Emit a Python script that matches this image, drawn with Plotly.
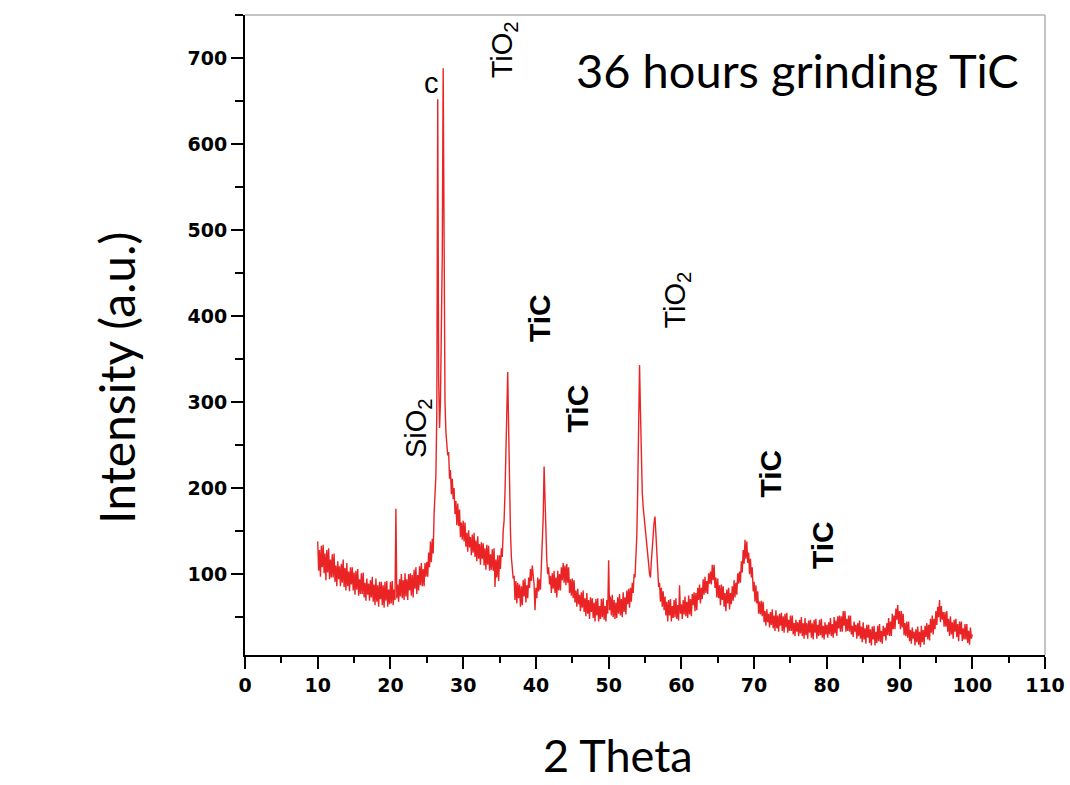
import numpy as np
import plotly.graph_objects as go

# ---- data ----
theta_start = 10.0
theta_step = 0.125
# intensity sampled every 0.125 deg from 10 to 100 (8 values per degree row)
intensity = [
    138, 104, 128, 97, 133, 108, 134, 101,     # 10
    124, 93, 128, 102, 130, 94, 117, 96,       # 11
    123, 96, 124, 91, 110, 86, 115, 94,        # 12
    109, 86, 112, 90, 117, 85, 107, 81,        # 13
    113, 86, 103, 80, 108, 88, 108, 81,        # 14
    102, 76, 104, 82, 106, 75, 94, 77,         # 15
    101, 77, 102, 73, 90, 69, 95, 76,          # 16
    89, 69, 93, 73, 97, 68, 88, 64,            # 17
    95, 68, 87, 62, 91, 71, 91, 64,            # 18
    87, 61, 91, 69, 92, 62, 82, 65,            # 19
    91, 66, 92, 64, 82, 70, 176, 72,           # 20
    88, 68, 94, 74, 100, 72, 93, 70,           # 21
    101, 74, 94, 70, 100, 81, 101, 75,         # 22
    99, 73, 105, 83, 108, 77, 99, 81,          # 23
    109, 87, 113, 86, 106, 86, 113, 97,        # 24
    114, 97, 125, 108, 138, 114, 141, 124,     # 25
    170, 190, 215, 290, 652, 330, 270, 300,    # 26
    380, 470, 688, 420, 300, 265, 250, 238,    # 27
    242, 211, 221, 193, 211, 187, 200, 170,    # 28
    185, 157, 182, 156, 175, 143, 160, 140,    # 29
    162, 138, 160, 132, 148, 126, 151, 131,    # 30
    143, 122, 146, 125, 148, 120, 139, 115,    # 31
    144, 118, 135, 111, 137, 118, 136, 110,    # 32
    130, 105, 134, 111, 133, 104, 123, 105,    # 33
    129, 104, 130, 85, 117, 96, 122, 92,       # 34
    122, 106, 130, 120, 150, 162, 195, 235,    # 35
    300, 335, 270, 200, 150, 120, 100, 95,     # 36
    98, 70, 92, 66, 90, 72, 88, 62,            # 37
    86, 64, 93, 74, 95, 67, 87, 72,            # 38
    96, 84, 106, 92, 110, 96, 88, 58,          # 39
    84, 72, 96, 80, 94, 82, 105, 130,          # 40
    165, 225, 190, 140, 115, 100, 108, 88,     # 41
    98, 78, 101, 83, 104, 78, 96, 73,          # 42
    104, 81, 100, 81, 108, 93, 113, 90,        # 43
    110, 87, 112, 90, 108, 78, 94, 75,         # 44
    95, 72, 93, 67, 81, 62, 83, 65,            # 45
    76, 57, 79, 61, 81, 56, 72, 51,            # 46
    78, 54, 70, 48, 73, 56, 72, 49,            # 47
    67, 45, 71, 52, 72, 45, 63, 48,            # 48
    71, 50, 72, 47, 63, 45, 70, 54,            # 49
    116, 58, 74, 52, 76, 50, 70, 48,           # 50
    67, 49, 73, 54, 77, 52, 71, 50,            # 51
    79, 56, 73, 53, 81, 65, 83, 61,            # 52
    84, 68, 90, 78, 100, 96, 125, 145,         # 53
    200, 280, 343, 290, 230, 195, 178, 168,    # 54
    160, 150, 138, 125, 112, 100, 96, 115,     # 55
    130, 150, 160, 167, 145, 115, 95, 85,      # 56
    90, 68, 84, 62, 80, 58, 74, 52,            # 57
    68, 45, 70, 52, 71, 45, 63, 49,            # 58
    70, 50, 72, 48, 64, 46, 87, 54,            # 59
    65, 48, 70, 53, 74, 51, 68, 49,            # 60
    75, 53, 71, 51, 77, 64, 79, 57,            # 61
    78, 58, 84, 70, 88, 66, 84, 71,            # 62
    94, 76, 97, 78, 92, 77, 101, 89,           # 63
    103, 88, 111, 93, 111, 84, 96, 73,         # 64
    95, 72, 87, 64, 88, 70, 86, 62,            # 65
    78, 57, 82, 66, 84, 59, 78, 65,            # 66
    86, 69, 93, 73, 90, 76, 101, 89,           # 67
    103, 90, 115, 102, 128, 112, 140, 118,     # 68
    138, 113, 125, 100, 118, 96, 108, 80,      # 69
    91, 68, 87, 66, 80, 54, 68, 53,            # 70
    69, 51, 68, 44, 57, 40, 59, 44,            # 71
    54, 38, 56, 41, 59, 37, 52, 34,            # 72
    58, 37, 52, 33, 54, 40, 55, 34,            # 73
    51, 32, 54, 38, 55, 32, 47, 34,            # 74
    52, 34, 52, 30, 43, 28, 47, 33,            # 75
    44, 28, 47, 31, 50, 28, 43, 25,            # 76
    49, 29, 43, 25, 46, 32, 47, 26,            # 77
    43, 24, 47, 32, 48, 25, 41, 28,            # 78
    47, 29, 48, 26, 40, 24, 44, 30,            # 79
    41, 26, 44, 30, 49, 28, 42, 26,            # 80
    50, 31, 46, 28, 51, 37, 52, 33,            # 81
    51, 33, 57, 40, 57, 33, 48, 34,            # 82
    52, 33, 52, 30, 40, 27, 45, 33,            # 83
    41, 25, 43, 28, 46, 25, 39, 21,            # 84
    44, 24, 37, 19, 41, 26, 41, 20,            # 85
    36, 17, 39, 24, 40, 17, 33, 20,            # 86
    40, 22, 42, 21, 34, 19, 40, 28,            # 87
    38, 23, 43, 29, 49, 28, 45, 28,            # 88
    54, 36, 52, 36, 60, 47, 64, 42,            # 89
    57, 36, 57, 38, 54, 29, 43, 28,            # 90
    45, 26, 45, 22, 35, 19, 38, 25,            # 91
    33, 17, 36, 21, 39, 18, 33, 15,            # 92
    40, 21, 35, 18, 40, 27, 43, 24,            # 93
    41, 23, 48, 32, 52, 30, 48, 36,            # 94
    57, 41, 62, 50, 70, 44, 63, 47,            # 95
    56, 39, 56, 39, 57, 33, 48, 28,            # 96
    51, 30, 44, 25, 47, 33, 48, 27,            # 97
    42, 22, 45, 30, 45, 22, 37, 24,            # 98
    42, 24, 42, 20, 34, 18, 38, 25,            # 99
    30,                                        # 100
]

x_ticks = [0, 10, 20, 30, 40, 50, 60, 70, 80, 90, 100, 110]
y_ticks = [100, 200, 300, 400, 500, 600, 700]

# phase labels: (text, theta, intensity, bold, rotated)
labels = [
    ("c", 25.6, 671, False, False),
    ("TiO<sub>2</sub>", 35.6, 710, False, True),
    ("SiO<sub>2</sub>", 23.8, 270, False, True),
    ("TiC", 40.6, 398, True, True),
    ("TiC", 45.7, 293, True, True),
    ("TiO<sub>2</sub>", 59.4, 418, False, True),
    ("TiC", 72.2, 217, True, True),
    ("TiC", 79.5, 134, True, True),
]

# ---- build ----
theta = theta_start + theta_step * np.arange(len(intensity))

fig = go.Figure()
fig.add_trace(go.Scatter(x=theta, y=intensity, mode="lines",
                         line=dict(color="rgb(234,36,36)", width=1.4),
                         showlegend=False, hoverinfo="skip"))

tickfont = dict(family="DejaVu Sans, Liberation Sans, sans-serif", size=19,
                color="black", weight="bold")
fig.update_xaxes(range=[0, 110], tickvals=x_ticks, ticks="outside", ticklen=12,
                 tickwidth=2, tickcolor="black", showline=True, linecolor="black",
                 linewidth=2, showgrid=False, zeroline=False, tickfont=tickfont,
                 automargin=False,
                 minor=dict(dtick=5, tick0=0, ticks="outside", ticklen=6,
                            tickwidth=2, tickcolor="black", showgrid=False))
fig.update_yaxes(range=[6, 750], tickvals=y_ticks, ticks="outside", ticklen=12,
                 tickwidth=2, tickcolor="black", showline=True, linecolor="black",
                 linewidth=2, showgrid=False, zeroline=False, tickfont=tickfont,
                 automargin=False,
                 minor=dict(dtick=50, tick0=0, ticks="outside", ticklen=8,
                            tickwidth=2, tickcolor="black", showgrid=False))

annots = []
for text, lx, ly, bold, rot in labels:
    annots.append(dict(
        x=lx, y=ly, xref="x", yref="y", showarrow=False,
        text=("<b>%s</b>" % text) if bold else text,
        textangle=-90 if rot else 0,
        font=dict(family="Liberation Sans, Arial, sans-serif",
                  size=30 if bold else 29, color="black"),
        xanchor="center", yanchor="middle"))

title_font = dict(family="Lato, Open Sans, sans-serif", size=48, color="black")
annots.append(dict(x=-0.16, y=0.433, xref="paper", yref="paper", showarrow=False,
                   text="Intensity (a.u.)", textangle=-90, font=title_font,
                   xanchor="center", yanchor="middle"))
annots.append(dict(x=0.466, y=-0.156, xref="paper", yref="paper", showarrow=False,
                   text="2 Theta",
                   font=dict(family="Lato, Open Sans, sans-serif", size=45, color="black"),
                   xanchor="center", yanchor="middle"))
annots.append(dict(x=0.69, y=0.914, xref="paper", yref="paper", showarrow=False,
                   text="36 hours grinding TiC",
                   font=dict(family="Lato, Open Sans, sans-serif", size=47, color="black"),
                   xanchor="center", yanchor="middle"))

shapes = [
    dict(type="line", xref="paper", yref="paper", x0=0, x1=1, y0=1, y1=1,
         line=dict(color="#b0b0b0", width=1.5)),
    dict(type="line", xref="paper", yref="paper", x0=1, x1=1, y0=0, y1=1,
         line=dict(color="#b0b0b0", width=1.5)),
]

fig.update_layout(width=1070, height=785,
                  margin=dict(l=245, r=25, t=15, b=130, autoexpand=False),
                  paper_bgcolor="white", plot_bgcolor="white",
                  annotations=annots, shapes=shapes)

fig.write_html("out.html")
